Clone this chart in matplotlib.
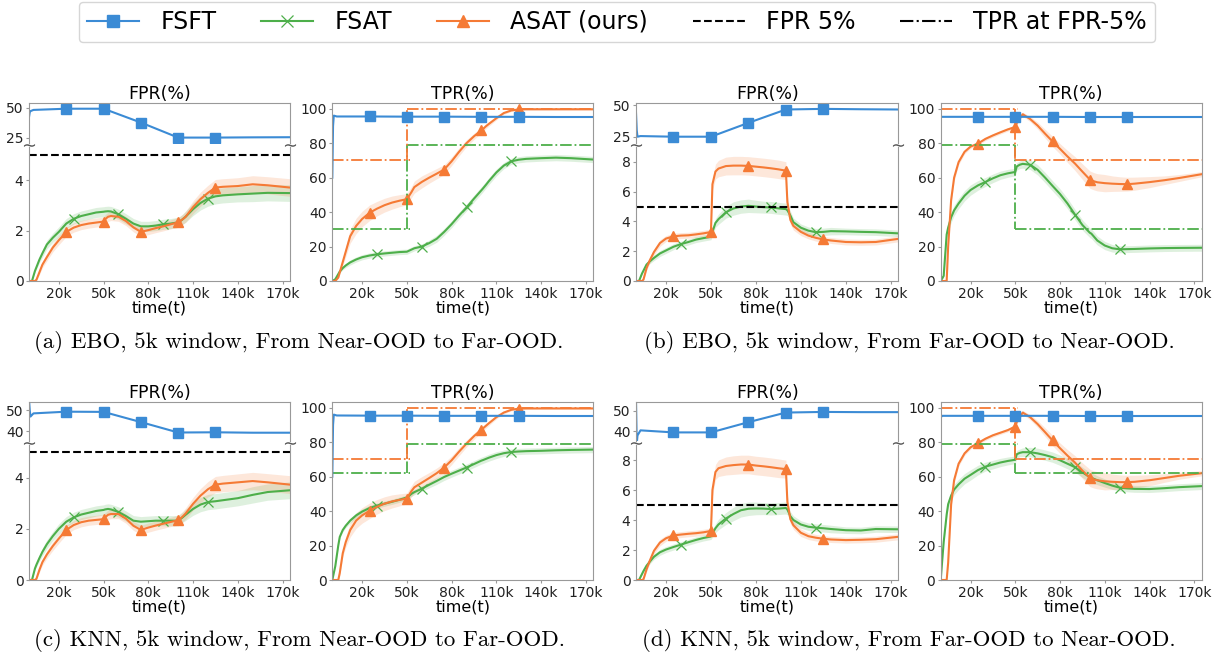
import numpy as np
import matplotlib.pyplot as plt
from matplotlib.lines import Line2D

# ---- data (time in thousand steps) ----
T = [0, 2, 4, 5, 7, 9, 12, 16, 20, 25, 30, 35, 40, 45, 50, 51, 53, 55, 60, 65, 70, 75, 80, 85,
     90, 95, 100, 101, 103, 105, 110, 115, 120, 125, 130, 140, 150, 160, 175]
T_FSFT = [0, 0.5, 1, 3, 25, 50, 75, 100, 125, 150, 175]

# FSFT
fsft_fpr_a = [42, 46, 47, 48, 49, 49, 37.5, 25, 25, 25.2, 25.3]
fsft_fpr_b = [44, 30, 25, 25.5, 25, 25, 36, 46.6, 47.1, 46.8, 46.6]
fsft_fpr_c = [55, 50, 47, 48.5, 49.3, 49.2, 44.4, 39.5, 39.6, 39.4, 39.4]
fsft_fpr_d = [55, 34, 38, 40.5, 39.5, 39.5, 44.5, 49.2, 49.5, 49.4, 49.4]
fsft_tpr_a = [60, 90, 96, 95.5, 95.5, 95.4, 95.4, 95.3, 95.3, 95.2, 95.2]
fsft_tpr_b = [95, 95.3, 95.3, 95.3, 95.3, 95.3, 95.3, 95.2, 95.2, 95.2, 95.2]
fsft_tpr_c = [60, 90, 96, 95.5, 95.4, 95.4, 95.3, 95.3, 95.3, 95.2, 95.2]
fsft_tpr_d = [94, 95, 95.3, 95.3, 95.3, 95.3, 95.3, 95.2, 95.2, 95.2, 95.2]

# ASAT (ours)
asat_fpr_a = [0, 0, 0, 0.05, 0.35, 0.65, 0.95, 1.33, 1.62, 1.95, 2.12, 2.22, 2.28, 2.32, 2.36, 2.45, 2.55,
              2.58, 2.55, 2.38, 2.13, 1.95, 2.02, 2.1, 2.17, 2.25, 2.33, 2.36, 2.45, 2.55, 2.93, 3.25, 3.5,
              3.71, 3.74, 3.77, 3.84, 3.8, 3.71]
asat_fpr_b = [0, 0, 0, 0.1, 0.85, 1.35, 1.95, 2.55, 2.85, 3.0, 3.05, 3.07, 3.13, 3.2, 3.29, 6.5, 7.35,
              7.55, 7.72, 7.75, 7.75, 7.73, 7.68, 7.63, 7.57, 7.5, 7.41, 5.3, 4.1, 3.7, 3.3, 3.05, 2.9,
              2.79, 2.72, 2.62, 2.6, 2.62, 2.83]
asat_fpr_c = [0, 0, 0, 0.05, 0.4, 0.7, 1.0, 1.33, 1.62, 1.96, 2.15, 2.26, 2.32, 2.35, 2.38, 2.45, 2.55,
              2.58, 2.58, 2.4, 2.12, 1.96, 2.05, 2.13, 2.2, 2.27, 2.34, 2.38, 2.48, 2.6, 2.98, 3.3, 3.55,
              3.73, 3.77, 3.82, 3.87, 3.82, 3.73]
asat_fpr_d = [0, 0, 0, 0.05, 0.7, 1.24, 1.95, 2.5, 2.78, 2.97, 3.03, 3.08, 3.12, 3.18, 3.27, 6.0, 7.2,
              7.45, 7.6, 7.66, 7.7, 7.7, 7.63, 7.58, 7.52, 7.45, 7.39, 5.2, 4.05, 3.65, 3.15, 2.92, 2.82,
              2.75, 2.7, 2.66, 2.68, 2.72, 2.88]
asat_tpr_a = [0, 0, 2, 5, 11, 17, 26, 32, 36, 39.6, 42, 44, 45.5, 46.6, 47.5, 48.8, 51.5, 54.5, 57.5, 60,
              62.3, 64.7, 69.5, 75, 80, 84, 87.5, 88.2, 89.8, 91.2, 94.5, 97.5, 99, 99.6, 99.7, 99.7,
              99.7, 99.7, 99.7]
asat_tpr_b = [0, 0, 0, 20, 47, 60, 69, 75, 78, 79.8, 82.5, 84.5, 86.3, 88, 89.4, 91.7, 94.5, 96.8, 94,
              90.2, 85.5, 81, 76.7, 72.3, 68.2, 63.5, 58.9, 58.5, 57.8, 57.3, 56.8, 56.5, 56.3, 56.2,
              56.5, 57.4, 58.5, 59.8, 62]
asat_tpr_c = [0, 0, 0, 4, 15.5, 22, 29, 34.5, 37.5, 40.2, 42.5, 44.3, 45.6, 46.5, 47.3, 48.8, 51.5, 53.8,
              56.5, 59.2, 62, 65.3, 69.5, 74.5, 79.2, 83.5, 87.3, 88, 89.5, 91, 94.5, 97.2, 98.8, 99.5,
              99.6, 99.6, 99.6, 99.6, 99.6]
asat_tpr_d = [0, 0, 0, 10, 44, 58, 67.5, 73.5, 77, 79.5, 82, 84, 85.5, 87, 89.1, 91.7, 94.5, 97.2, 94.5,
              90.5, 85.8, 81, 76.5, 72.2, 68.2, 63.5, 59.3, 58.9, 58.3, 57.9, 57.3, 57, 56.8, 56.8, 57,
              57.9, 59.2, 60.5, 62]

# FSAT
fsat_fpr_a = [0, 0, 0.4, 0.55, 0.85, 1.1, 1.45, 1.72, 1.95, 2.28, 2.47, 2.58, 2.65, 2.72, 2.75, 2.76,
              2.77, 2.76, 2.65, 2.47, 2.28, 2.17, 2.17, 2.2, 2.25, 2.28, 2.33, 2.36, 2.45, 2.55, 2.85,
              3.1, 3.27, 3.36, 3.4, 3.44, 3.47, 3.5, 3.49]
fsat_fpr_b = [0, 0, 0.5, 0.7, 1.1, 1.3, 1.55, 1.85, 2.05, 2.3, 2.48, 2.62, 2.78, 2.88, 2.97, 3.3, 3.9,
              4.15, 4.62, 4.87, 5.0, 5.05, 5.0, 4.96, 4.94, 4.88, 4.83, 4.75, 4.4, 3.95, 3.58, 3.38, 3.28,
              3.3, 3.35, 3.33, 3.3, 3.28, 3.2]
fsat_fpr_c = [0, 0, 0.45, 0.6, 0.86, 1.1, 1.4, 1.72, 2.0, 2.28, 2.45, 2.56, 2.63, 2.7, 2.74, 2.76, 2.78,
              2.76, 2.66, 2.5, 2.32, 2.28, 2.3, 2.32, 2.32, 2.32, 2.32, 2.36, 2.45, 2.55, 2.78, 2.95,
              3.05, 3.08, 3.12, 3.2, 3.33, 3.44, 3.51]
fsat_fpr_d = [0, 0, 0.4, 0.6, 0.95, 1.2, 1.55, 1.85, 2.03, 2.2, 2.36, 2.52, 2.67, 2.8, 2.9, 3.1, 3.45,
              3.7, 4.1, 4.4, 4.65, 4.75, 4.77, 4.76, 4.73, 4.76, 4.8, 4.7, 4.25, 4.0, 3.7, 3.55, 3.49,
              3.45, 3.4, 3.32, 3.3, 3.4, 3.38]
fsat_tpr_a = [0, 1, 4, 5.5, 7.5, 9, 10.8, 12.5, 13.8, 14.8, 15.5, 16, 16.4, 16.8, 17, 17.4, 18.2, 19, 20,
              22, 24.5, 28.5, 33, 38, 42.7, 47.8, 52.7, 53.7, 55.8, 58, 63, 67, 69.5, 70.4, 70.9, 71.3,
              71.6, 71.3, 70.5]
fsat_tpr_b = [0, 3, 27, 31, 37, 41, 45, 49.5, 52.8, 55.5, 57.5, 59.6, 61.4, 62.5, 63.3, 66.5, 67.5, 68,
              67.5, 64.5, 60, 55.2, 50.5, 45, 38.6, 32.5, 28, 27.5, 25.5, 23.5, 20.6, 19, 18.4, 18.5,
              18.6, 18.9, 19.1, 19.2, 19.3]
fsat_tpr_c = [0, 8, 20, 25, 29, 31.5, 34.5, 37.5, 39.7, 41.8, 43.2, 44.3, 45.4, 46.6, 47.9, 48.5, 50, 51,
              53, 55.3, 57.5, 59.8, 61.7, 63.5, 65.3, 67.3, 69.3, 69.6, 70.3, 71, 72.5, 73.6, 74.3, 74.6,
              74.8, 75, 75.3, 75.5, 75.7]
fsat_tpr_d = [0, 22, 38, 44, 49, 52.5, 55.5, 58.8, 61, 63.8, 65.8, 67, 68.2, 69.1, 69.8, 73, 73.8, 74.2,
              74.2, 73.5, 72.5, 71.3, 69.5, 67.5, 65.5, 62.5, 59.7, 59.4, 58.6, 57.9, 56.3, 54.8, 53.6,
              53.2, 52.9, 52.8, 53.3, 53.9, 54.5]

# spread (std bands) -- near->far panels (a, c) and far->near panels (b, d)
asat_fpr_sd_nf = [0, 0, 0, 0.05, 0.1, 0.12, 0.15, 0.17, 0.18, 0.18, 0.18, 0.18, 0.18, 0.18, 0.18, 0.18,
                  0.18, 0.18, 0.18, 0.18, 0.18, 0.18, 0.18, 0.18, 0.18, 0.18, 0.2, 0.2, 0.2, 0.22, 0.25,
                  0.28, 0.3, 0.32, 0.32, 0.33, 0.34, 0.34, 0.35]
fsat_fpr_sd_nf = [0, 0, 0.05, 0.08, 0.12, 0.15, 0.17, 0.18, 0.2, 0.2, 0.2, 0.2, 0.2, 0.2, 0.2, 0.2, 0.2,
                  0.2, 0.2, 0.2, 0.2, 0.2, 0.2, 0.2, 0.2, 0.2, 0.2, 0.2, 0.2, 0.22, 0.25, 0.28, 0.3, 0.3,
                  0.3, 0.3, 0.32, 0.32, 0.33]
asat_fpr_sd_fn = [0, 0, 0, 0.05, 0.15, 0.2, 0.22, 0.22, 0.2, 0.2, 0.2, 0.2, 0.2, 0.2, 0.2, 0.4, 0.5,
                  0.55, 0.6, 0.62, 0.62, 0.62, 0.62, 0.62, 0.62, 0.62, 0.6, 0.45, 0.3, 0.28, 0.25, 0.22,
                  0.22, 0.2, 0.2, 0.2, 0.2, 0.2, 0.2]
fsat_fpr_sd_fn = [0, 0, 0.05, 0.08, 0.12, 0.15, 0.18, 0.2, 0.2, 0.2, 0.2, 0.2, 0.2, 0.2, 0.2, 0.25, 0.3,
                  0.35, 0.4, 0.45, 0.45, 0.45, 0.42, 0.4, 0.4, 0.4, 0.4, 0.35, 0.3, 0.28, 0.25, 0.25,
                  0.25, 0.25, 0.25, 0.22, 0.22, 0.22, 0.22]
asat_tpr_sd_nf = [0, 0, 0.5, 1, 2, 3, 4, 4.5, 4.5, 4.5, 4.2, 4, 3.8, 3.5, 3.2, 3.2, 3.2, 3.5, 3.5, 3.2, 3,
                  2.8, 2.5, 2.3, 2, 1.8, 1.6, 1.5, 1.4, 1.3, 1, 0.8, 0.6, 0.5, 0.5, 0.5, 0.5, 0.5, 0.5]
fsat_tpr_sd_nf = [0, 0.3, 0.6, 0.8, 1, 1.2, 1.5, 1.5, 1.5, 1.5, 1.5, 1.5, 1.5, 1.5, 1.5, 1.5, 1.5, 1.5,
                  1.6, 1.8, 2, 2, 2, 2, 2, 2, 2, 2, 2, 2, 2, 1.8, 1.8, 1.8, 1.8, 1.8, 1.8, 1.8, 1.8]
asat_tpr_sd_fn = [0, 0, 0, 1, 2, 2, 1.5, 1.2, 1, 1, 1, 1, 1, 1, 1, 1, 1, 1.2, 1.5, 2, 2.5, 3, 3, 3.5, 4,
                  4.5, 5, 5, 5, 5, 5, 4.5, 4.2, 4, 3.8, 3.2, 2.5, 2, 1.5]
fsat_tpr_sd_fn = [0, 1, 2, 2.5, 3, 3, 3, 3, 3, 2.8, 2.6, 2.5, 2.4, 2.3, 2.2, 2.2, 2.2, 2.5, 2.8, 3, 3, 3,
                  3, 3, 3, 3, 2.8, 2.8, 2.8, 2.6, 2.4, 2.2, 2, 2, 2, 2, 2, 2, 2]

# TPR at FPR-5% (before / after the switch at 50k)
thr_asat = {'a': (70, 100), 'b': (100, 70), 'c': (70, 100), 'd': (100, 70)}
thr_fsat = {'a': (30, 79), 'b': (79, 30), 'c': (62, 79), 'd': (79, 62)}

captions = ['(a) EBO, 5k window, From Near-OOD to Far-OOD.',
            '(b) EBO, 5k window, From Far-OOD to Near-OOD.',
            '(c) KNN, 5k window, From Near-OOD to Far-OOD.',
            '(d) KNN, 5k window, From Far-OOD to Near-OOD.']

xticks = [20, 50, 80, 110, 140, 170]
xticklabels = ['20k', '50k', '80k', '110k', '140k', '170k']

BLUE = '#3b8bd5'
GREEN = '#4daf4a'
ORANGE = '#f57a35'

W, H = 1215, 653
fig = plt.figure(figsize=(W / 100, H / 100), dpi=100)

MK_A = [T.index(v) for v in (25, 50, 75, 100, 125)]
MK_G = [T.index(v) for v in (30, 60, 90, 120)]
MK_B = [4, 5, 6, 7, 8]


def px_axes(l, t, r, b):
    return fig.add_axes([l / W, 1 - b / H, (r - l) / W, (b - t) / H])


def style(ax):
    for s in ax.spines.values():
        s.set_color('#999999')
    ax.tick_params(labelsize=10, colors='#222222', length=2, pad=2, color='#999999')
    ax.set_xlim(0, 175)


def draw_fsat_asat(ax, fsat, fsat_sd, asat, asat_sd):
    g, gs = np.array(fsat), np.array(fsat_sd)
    o, os_ = np.array(asat), np.array(asat_sd)
    ax.fill_between(T, g - gs, g + gs, color=GREEN, alpha=0.18, lw=0)
    ax.fill_between(T, o - os_, o + os_, color=ORANGE, alpha=0.18, lw=0)
    ax.plot(T, g, color=GREEN, lw=1.5, marker='x', ms=7, mew=0.9, markevery=MK_G)
    ax.plot(T, o, color=ORANGE, lw=1.5, marker='^', ms=7, markevery=MK_A)


def fpr_panel(l, r, t, brk, b, fsft, fsat, fsat_sd, asat, asat_sd, up_lim, up_ticks, low_lim, low_ticks):
    up = px_axes(l, t, r, brk - 2)
    lo = px_axes(l, brk + 2, r, b)
    for ax in (up, lo):
        style(ax)
    up.plot(T_FSFT, fsft, color=BLUE, lw=1.5, marker='s', ms=7, markevery=MK_B)
    up.set_ylim(*up_lim)
    up.set_yticks(up_ticks)
    up.set_xticks([])
    up.spines['bottom'].set_visible(False)
    up.set_title('FPR(%)', fontsize=12.5, pad=2)
    draw_fsat_asat(lo, fsat, fsat_sd, asat, asat_sd)
    lo.axhline(5, color='black', ls='--', lw=1.5)
    lo.set_ylim(*low_lim)
    lo.set_yticks(low_ticks)
    lo.spines['top'].set_visible(False)
    lo.set_xticks(xticks)
    lo.set_xticklabels(xticklabels)
    lo.set_xlabel('time(t)', fontsize=11.5, labelpad=0)
    # axis-break marks
    fig.add_artist(Line2D([l / W, r / W], [1 - brk / H] * 2, ls='none', marker=r'$\sim$', ms=8,
                          mew=0, color='#555555', transform=fig.transFigure))


def tpr_panel(l, r, t, b, fsft, fsat, fsat_sd, asat, asat_sd, key):
    ax = px_axes(l, t, r, b)
    style(ax)
    draw_fsat_asat(ax, fsat, fsat_sd, asat, asat_sd)
    for (v0, v1), c in ((thr_fsat[key], GREEN), (thr_asat[key], ORANGE)):
        ax.plot([0, 52], [v0, v0], color=c, ls='-.', lw=1.3)
        ax.plot([50, 50], [v0, v1], color=c, ls='-.', lw=1.3)
        ax.plot([50, 175], [v1, v1], color=c, ls='-.', lw=1.3)
    ax.plot(T_FSFT, fsft, color=BLUE, lw=1.5, marker='s', ms=7, markevery=MK_B)
    ax.set_ylim(0, 103.5)
    ax.set_yticks([0, 20, 40, 60, 80, 100])
    ax.set_xticks(xticks)
    ax.set_xticklabels(xticklabels)
    ax.set_title('TPR(%)', fontsize=12.5, pad=2)
    ax.set_xlabel('time(t)', fontsize=11.5, labelpad=0)


# top row
fpr_panel(29, 290, 102.7, 145, 281, fsft_fpr_a, fsat_fpr_a, fsat_fpr_sd_nf, asat_fpr_a, asat_fpr_sd_nf,
          (20.5, 54), [25, 50], (0, 5.32), [0, 2, 4])
tpr_panel(332.3, 593.3, 102.7, 281, fsft_tpr_a, fsat_tpr_a, fsat_tpr_sd_nf, asat_tpr_a, asat_tpr_sd_nf, 'a')
fpr_panel(636, 898.3, 102.7, 145, 281, fsft_fpr_b, fsat_fpr_b, fsat_fpr_sd_fn, asat_fpr_b, asat_fpr_sd_fn,
          (20, 52), [25, 50], (0, 9.0), [0, 2, 4, 6, 8])
tpr_panel(940.7, 1201.7, 102.7, 281, fsft_tpr_b, fsat_tpr_b, fsat_tpr_sd_fn, asat_tpr_b, asat_tpr_sd_fn, 'b')

# bottom row
fpr_panel(29, 290, 401.7, 443, 580, fsft_fpr_c, fsat_fpr_c, fsat_fpr_sd_nf, asat_fpr_c, asat_fpr_sd_nf,
          (35.5, 54), [40, 50], (0, 5.28), [0, 2, 4])
tpr_panel(332.3, 593.3, 401.7, 580, fsft_tpr_c, fsat_tpr_c, fsat_tpr_sd_nf, asat_tpr_c, asat_tpr_sd_nf, 'c')
fpr_panel(636, 898.3, 401.7, 443, 580, fsft_fpr_d, fsat_fpr_d, fsat_fpr_sd_fn, asat_fpr_d, asat_fpr_sd_fn,
          (35.3, 54.5), [40, 50], (0, 9.0), [0, 2, 4, 6, 8])
tpr_panel(940.7, 1201.7, 401.7, 580, fsft_tpr_d, fsat_tpr_d, fsat_tpr_sd_fn, asat_tpr_d, asat_tpr_sd_fn, 'd')

# captions
for (cx, cy), txt in zip([(299, 343), (909, 343), (299, 641), (909, 641)], captions):
    fig.text(cx / W, 1 - cy / H, txt, family='cmr10', fontsize=16.5, ha='center', va='center')

# legend
handles = [
    Line2D([], [], color=BLUE, lw=1.5, marker='s', ms=8),
    Line2D([], [], color=GREEN, lw=1.5, marker='x', ms=8, mew=0.9),
    Line2D([], [], color=ORANGE, lw=1.5, marker='^', ms=8),
    Line2D([], [], color='black', ls='--', lw=1.5),
    Line2D([], [], color='black', ls='-.', lw=1.5),
]
labels = ['FSFT', 'FSAT', 'ASAT (ours)', 'FPR 5%', 'TPR at FPR-5%']
fig.legend(handles, labels, loc='center', bbox_to_anchor=(617 / W, 1 - 22 / H), ncol=5, fontsize=17,
           handlelength=2.2, handletextpad=0.9, columnspacing=1.9, frameon=True, edgecolor='#cccccc',
           fancybox=True, borderpad=0.35)

fig.savefig('out.png', dpi=100)
